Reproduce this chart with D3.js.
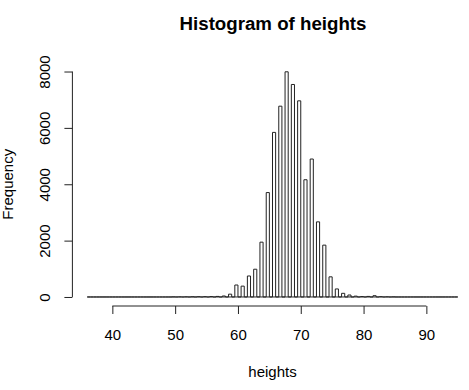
<!DOCTYPE html>
<html>
<head>
<meta charset="utf-8">
<script src="https://cdn.jsdelivr.net/npm/d3@7/dist/d3.min.js"></script>
<style>
  html, body { margin: 0; padding: 0; background: #fff; }
  svg { display: block; font-family: "Liberation Sans", Arial, Helvetica, sans-serif; }
</style>
</head>
<body>
<svg id="chart" width="469" height="390"></svg>
<script>
// ---- data ----
const title = "Histogram of heights";
const xLabel = "heights";
const yLabel = "Frequency";
// histogram bin edges (width 0.5) from 36 to 95
const breakStart = 36, breakEnd = 95, binWidth = 0.5;
// integer heights and their counts (each falls in bin (h-0.5, h])
const heightValues = [50, 51, 52, 53, 54, 55, 56, 57, 58, 59, 60, 61, 62, 63, 64, 65, 66, 67, 68, 69,
                      70, 71, 72, 73, 74, 75, 76, 77, 78, 79, 80, 81, 82, 83, 84, 85];
const heightCounts = [4, 5, 6, 8, 10, 12, 15, 20, 35, 100, 425, 385, 745, 985, 1945, 3705, 5840, 6770, 7990, 7540,
                      6960, 4160, 4895, 2665, 1840, 715, 285, 130, 70, 30, 15, 20, 45, 12, 6, 4];
const xTicks = [40, 50, 60, 70, 80, 90];
const yTicks = [0, 2000, 4000, 6000, 8000];

// ---- build bins ----
const countByHeight = new Map(heightValues.map((h, i) => [h, heightCounts[i]]));
const nBins = Math.round((breakEnd - breakStart) / binWidth);
const bins = d3.range(nBins).map(i => {
  const x0 = breakStart + i * binWidth, x1 = x0 + binWidth;
  let c = 0;
  heightValues.forEach(h => { if (h > x0 && h <= x1) c += countByHeight.get(h); });
  return { x0, x1, count: c };
});

// ---- scales ----
const svg = d3.select("#chart");
const xPad = (breakEnd - breakStart) * 0.04;
const yMax = 8000 * 1.0;
const x = d3.scaleLinear().domain([breakStart - xPad, breakEnd + xPad]).range([72.4, 472.6]);
const y = d3.scaleLinear().domain([-yMax * 0.04, yMax * 1.04]).range([306, 62.5]);

// ---- bars ----
svg.append("g")
  .selectAll("path")
  .data(bins)
  .join("path")
  .attr("d", d => {
    const a = x(d.x0), b = x(d.x1), y0 = y(0), y1 = y(d.count);
    return `M${a},${y0}V${y1}H${b}V${y0}Z`;
  })
  .attr("fill", "none")
  .attr("stroke", "#222")
  .attr("stroke-width", 1);

// ---- x axis ----
const xAxis = svg.append("g")
  .attr("transform", `translate(0,306)`)
  .call(d3.axisBottom(x).tickValues(xTicks).tickSize(8).tickSizeOuter(0).tickFormat(d3.format("d")));
xAxis.select(".domain").attr("d", `M${x(xTicks[0])},0H${x(xTicks[xTicks.length - 1])}`)
  .attr("stroke", "#222");
xAxis.selectAll(".tick line").attr("stroke", "#222");
xAxis.selectAll(".tick text")
  .attr("y", 34).attr("dy", 0)
  .attr("font-size", 15).attr("fill", "#000")
  .attr("font-family", "Liberation Sans, Arial, sans-serif");

// ---- y axis ----
const yAxis = svg.append("g")
  .attr("transform", `translate(72.4,0)`)
  .call(d3.axisLeft(y).tickValues(yTicks).tickSize(8).tickSizeOuter(0).tickFormat(d3.format("d")));
yAxis.select(".domain").attr("d", `M0,${y(yTicks[0])}V${y(yTicks[yTicks.length - 1])}`)
  .attr("stroke", "#222");
yAxis.selectAll(".tick line").attr("stroke", "#222");
yAxis.selectAll(".tick text")
  .attr("x", 0).attr("dy", 0)
  .attr("transform", "translate(-22,0) rotate(-90)")
  .attr("text-anchor", "middle")
  .attr("font-size", 15).attr("fill", "#000")
  .attr("font-family", "Liberation Sans, Arial, sans-serif");

// ---- labels ----
svg.append("text")
  .attr("x", 273).attr("y", 30)
  .attr("text-anchor", "middle")
  .attr("font-size", 18.7).attr("font-weight", "bold")
  .text(title);

svg.append("text")
  .attr("x", 272.5).attr("y", 377)
  .attr("text-anchor", "middle")
  .attr("font-size", 15)
  .text(xLabel);

svg.append("text")
  .attr("transform", `translate(12.5,${y(4000)}) rotate(-90)`)
  .attr("text-anchor", "middle")
  .attr("font-size", 15)
  .text(yLabel);
</script>
</body>
</html>
